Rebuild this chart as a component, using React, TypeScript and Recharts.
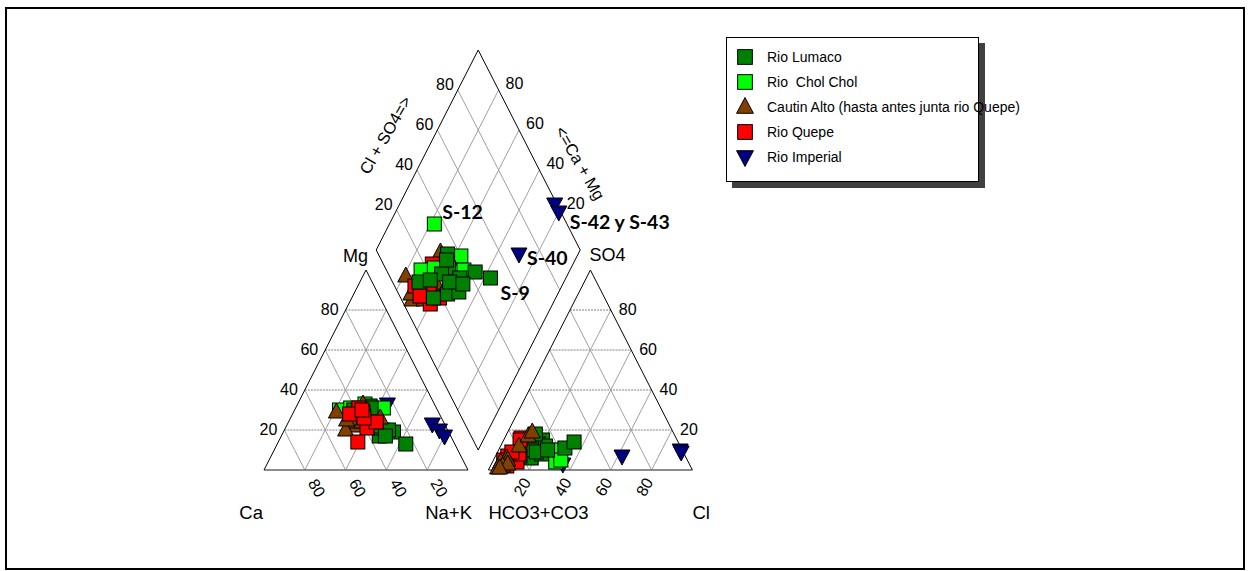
import React from "react";
import { ScatterChart, Scatter, XAxis, YAxis, ReferenceLine } from "recharts";

// percentages: Mg and Na+K (cations), SO4 and Cl (anions); Ca and HCO3+CO3 are the remainder
type Sample = { id?: string; mg: number; na: number; so4: number; cl: number };

const rioLumaco: Sample[] = [
  { mg: 30, na: 29, so4: 5, cl: 8 },
  { mg: 32, na: 36, so4: 15, cl: 19 },
  { mg: 23, na: 40, so4: 13, cl: 18 },
  { mg: 17, na: 48, so4: 12, cl: 22 },
  { mg: 19, na: 54, so4: 11, cl: 32 },
  { id: "S-9", mg: 13, na: 63, so4: 14, cl: 35 },
  { mg: 21, na: 46, so4: 6, cl: 18 },
  { mg: 20, na: 51, so4: 8, cl: 22 },
  { mg: 28, na: 38, so4: 10, cl: 16 },
  { mg: 22, na: 44, so4: 9, cl: 19 },
  { mg: 17, na: 51, so4: 10, cl: 24 },
  { mg: 27, na: 34, so4: 7, cl: 12 },
  { mg: 25, na: 40, so4: 5, cl: 11 },
  { mg: 31, na: 37, so4: 18, cl: 14 },
];

const rioCholChol: Sample[] = [
  { id: "S-12", mg: 30, na: 22, so4: 4, cl: 31 },
  { mg: 31, na: 27, so4: 7, cl: 10 },
  { mg: 31, na: 43, so4: 10, cl: 30 },
  { mg: 33, na: 33, so4: 12, cl: 12 },
  { mg: 20, na: 48, so4: 5, cl: 33 },
];

const cautinAlto: Sample[] = [
  { mg: 29, na: 21, so4: 4, cl: 4 },
  { mg: 23, na: 31, so4: 6, cl: 6 },
  { mg: 22, na: 34, so4: 5, cl: 7 },
  { mg: 26, na: 38, so4: 12, cl: 9 },
  { mg: 24, na: 32, so4: 2, cl: 6 },
  { mg: 26, na: 44, so4: 17, cl: 11 },
  { mg: 33, na: 32, so4: 19, cl: 12 },
  { mg: 20, na: 30, so4: 1, cl: 4 },
  { mg: 24, na: 36, so4: 3, cl: 8 },
  { mg: 25, na: 28, so4: 1, cl: 5 },
];

const rioQuepe: Sample[] = [
  { mg: 31, na: 31, so4: 16, cl: 8 },
  { mg: 21, na: 40, so4: 7, cl: 6 },
  { mg: 14, na: 39, so4: 4, cl: 12 },
  { mg: 28, na: 28, so4: 5, cl: 5 },
  { mg: 24, na: 43, so4: 8, cl: 11 },
  { mg: 29, na: 34, so4: 15, cl: 8 },
  { mg: 26, na: 36, so4: 9, cl: 7 },
  { mg: 30, na: 33, so4: 2, cl: 8 },
];

const rioImperial: Sample[] = [
  { id: "S-40", mg: 23, na: 71, so4: 7, cl: 62 },
  { id: "S-42", mg: 20, na: 76, so4: 10, cl: 89 },
  { id: "S-43", mg: 17, na: 80, so4: 9, cl: 90 },
  { mg: 33, na: 44, so4: 3, cl: 35 },
];

const tickValues = [20, 40, 60, 80];

const sampleLabels = [
  { text: "S-12", at: "S-12" },
  { text: "S-42 y S-43", at: "S-43" },
  { text: "S-40", at: "S-40" },
  { text: "S-9", at: "S-9" },
];

type MarkerKind = "square" | "up" | "down";

const series: { name: string; samples: Sample[]; fill: string; marker: MarkerKind }[] = [
  { name: "Rio Lumaco", samples: rioLumaco, fill: "#008000", marker: "square" },
  { name: "Rio  Chol Chol", samples: rioCholChol, fill: "#00ff00", marker: "square" },
  { name: "Cautin Alto (hasta antes junta rio Quepe)", samples: cautinAlto, fill: "#804000", marker: "up" },
  { name: "Rio Quepe", samples: rioQuepe, fill: "#ff0000", marker: "square" },
  { name: "Rio Imperial", samples: rioImperial, fill: "#000080", marker: "down" },
];

// ---- Piper geometry (triangle side = 100, gap between triangles = 10) ----
const H = Math.sqrt(3) / 2;
const GAP = 10;
type Pt = { x: number; y: number };

const cationPt = (mg: number, na: number): Pt => ({ x: na + mg / 2, y: mg * H });
const anionPt = (so4: number, cl: number): Pt => ({ x: 100 + GAP + cl + so4 / 2, y: so4 * H });
const diamondPt = (na: number, s: number): Pt => ({
  x: (na + 100 + GAP + s) / 2,
  y: H * (100 + GAP + s - na),
});

// each panel stacks its series in its own order (last one on top)
const panels: { key: string; place: (s: Sample) => Pt; order: number[] }[] = [
  { key: "cation", place: (s) => cationPt(s.mg, s.na), order: [4, 1, 0, 2, 3] },
  { key: "anion", place: (s) => anionPt(s.so4, s.cl), order: [4, 1, 0, 3, 2] },
  { key: "diamond", place: (s) => diamondPt(s.na, s.so4 + s.cl), order: [4, 2, 3, 1, 0] },
];

// chart domain so that 1 unit = 2.04px horizontally and 2.309px vertically
const W = 1249;
const HT = 571;
const X_DOMAIN: [number, number] = [-264 / 2.04, (W - 264) / 2.04];
const Y_DOMAIN: [number, number] = [(470 - HT) / 2.3094, 470 / 2.3094];

type Seg = { a: Pt; b: Pt; stroke: string; width?: number; dash?: string };

const triangleLines = (pt: (top: number, right: number) => Pt): Seg[] => {
  const segs: Seg[] = [];
  for (const v of tickValues) {
    // horizontal (top component)
    segs.push({ a: pt(v, 0), b: pt(v, 100 - v), stroke: "#808080", dash: "2 1" });
    // constant right component
    segs.push({ a: pt(0, v), b: pt(100 - v, v), stroke: "#a0a0a0" });
    // constant left component
    segs.push({ a: pt(0, 100 - v), b: pt(100 - v, 0), stroke: "#a0a0a0" });
  }
  segs.push({ a: pt(0, 0), b: pt(0, 100), stroke: "#666", width: 1.6 });
  segs.push({ a: pt(0, 0), b: pt(100, 0), stroke: "#000" });
  segs.push({ a: pt(0, 100), b: pt(100, 0), stroke: "#000" });
  return segs;
};

const diamondLines = (): Seg[] => {
  const segs: Seg[] = [];
  for (const v of tickValues) {
    segs.push({ a: diamondPt(v, 0), b: diamondPt(v, 100), stroke: "#a0a0a0" });
    segs.push({ a: diamondPt(0, v), b: diamondPt(100, v), stroke: "#a0a0a0" });
  }
  const c = [diamondPt(0, 0), diamondPt(0, 100), diamondPt(100, 100), diamondPt(100, 0)];
  c.forEach((p, i) => segs.push({ a: p, b: c[(i + 1) % 4], stroke: "#000" }));
  return segs;
};

const gridLines: Seg[] = [
  ...triangleLines((top, right) => cationPt(top, right)),
  ...triangleLines((top, right) => anionPt(top, right)),
  ...diamondLines(),
];

type TextItem = Pt & {
  text: string;
  dx: number;
  dy: number;
  anchor?: "start" | "middle" | "end";
  rotate?: number;
  size?: number;
  bold?: boolean;
};

const FONT = "'Liberation Sans', Arial, sans-serif";

const textItems: TextItem[] = [];
for (const v of tickValues) {
  textItems.push({ ...cationPt(v, 0), text: String(v), dx: -7, dy: -1, anchor: "end" });
  textItems.push({ ...cationPt(0, 100 - v), text: String(v), dx: 12, dy: 18, rotate: 60 });
  textItems.push({ ...anionPt(v, 100 - v), text: String(v), dx: 8, dy: -1, anchor: "start" });
  textItems.push({ ...anionPt(0, v), text: String(v), dx: -7, dy: 17, rotate: -60 });
  textItems.push({ ...diamondPt(0, v), text: String(v), dx: -4, dy: -6, anchor: "end" });
  textItems.push({ ...diamondPt(100 - v, 100), text: String(v), dx: 7, dy: -7, anchor: "start" });
}
textItems.push({ ...cationPt(100, 0), text: "Mg", dx: 2, dy: -14, anchor: "end", size: 18 });
textItems.push({ ...anionPt(100, 0), text: "SO4", dx: -1, dy: -15, anchor: "start", size: 18 });
textItems.push({ ...cationPt(0, 0), text: "Ca", dx: -1, dy: 42, anchor: "end", size: 18.5 });
textItems.push({ ...cationPt(0, 100), text: "Na+K", dx: 4, dy: 42, anchor: "end", size: 18.5 });
textItems.push({ ...anionPt(0, 0), text: "HCO3+CO3", dx: 0, dy: 42, anchor: "start", size: 18.5 });
textItems.push({ ...anionPt(0, 100), text: "Cl", dx: 0, dy: 42, anchor: "start", size: 18.5 });
textItems.push({ ...diamondPt(0, 50), text: "Cl + SO4=>", dx: -42, dy: -15, rotate: -60, size: 16.5 });
textItems.push({ ...diamondPt(50, 100), text: "<=Ca + Mg", dx: 51, dy: 13, rotate: 60, size: 16.5 });

const labelOffset: Record<string, [number, number]> = {
  "S-12": [8, -13],
  "S-43": [11, 9],
  "S-40": [8, 3],
  "S-9": [10, 14],
};

const allSamples = series.flatMap((s) => s.samples);
for (const l of sampleLabels) {
  const s = allSamples.find((p) => p.id === l.at);
  if (!s) continue;
  const [dx, dy] = labelOffset[l.at];
  textItems.push({
    ...diamondPt(s.na, s.so4 + s.cl),
    text: l.text,
    dx,
    dy,
    anchor: "start",
    size: 19.5,
    bold: true,
  });
}

const Marker = ({ cx, cy, fill, kind, scale = 1 }: { cx: number; cy: number; fill: string; kind: MarkerKind; scale?: number }) => {
  if (kind === "square") {
    const h = 7 * scale;
    return <rect x={cx - h} y={cy - h} width={2 * h} height={2 * h} fill={fill} stroke="#000" strokeWidth={1} />;
  }
  const w = 8 * scale;
  const pts =
    kind === "up"
      ? `${cx},${cy - 9 * scale} ${cx - w},${cy + 6 * scale} ${cx + w},${cy + 6 * scale}`
      : `${cx - w},${cy - 6 * scale} ${cx + w},${cy - 6 * scale} ${cx},${cy + 9 * scale}`;
  return <polygon points={pts} fill={fill} stroke="#000" strokeWidth={1} strokeLinejoin="miter" />;
};

const TextShape = (p: any) => {
  const t: TextItem = p.payload;
  const x = p.cx + t.dx;
  const y = p.cy + t.dy;
  return (
    <text
      x={x}
      y={y}
      textAnchor={t.anchor ?? "middle"}
      dominantBaseline="central"
      transform={t.rotate ? `rotate(${t.rotate} ${x} ${y})` : undefined}
      fontFamily={t.bold ? "Lato, 'Liberation Sans', sans-serif" : FONT}
      fontWeight={t.bold ? 700 : 400}
      fontSize={t.size ?? 16}
      fill="#000"
    >
      {t.text}
    </text>
  );
};

const Legend = () => (
  <div
    style={{
      position: "absolute",
      left: 726,
      top: 37,
      width: 251,
      height: 143,
      border: "1.5px solid #000",
      background: "#fff",
      boxShadow: "6px 6px 0 #404040",
      fontFamily: FONT,
      fontSize: 14,
    }}
  >
    {series.map((s, i) => (
      <div
        key={s.name}
        style={{ position: "absolute", left: 0, top: 9 + i * 25, height: 20, display: "flex", alignItems: "center", whiteSpace: "pre" }}
      >
        <svg width={36} height={20}>
          <Marker cx={18} cy={10} fill={s.fill} kind={s.marker} scale={1.05} />
        </svg>
        <span style={{ marginLeft: 4 }}>{s.name}</span>
      </div>
    ))}
  </div>
);

export default function App() {
  return (
    <div style={{ position: "absolute", left: 0, top: 0, width: W, height: HT, background: "#fff" }}>
      <div
        style={{
          position: "absolute",
          left: 5,
          top: 7,
          width: 1236,
          height: 559,
          border: "2px solid #000",
        }}
      />
      <div style={{ position: "absolute", left: 0, top: 0 }}>
        <ScatterChart width={W} height={HT} margin={{ top: 0, right: 0, bottom: 0, left: 0 }}>
          <XAxis type="number" dataKey="x" domain={X_DOMAIN} allowDataOverflow hide />
          <YAxis type="number" dataKey="y" domain={Y_DOMAIN} allowDataOverflow hide />
          {gridLines.map((g, i) => (
            <ReferenceLine
              key={`g${i}`}
              segment={[g.a, g.b]}
              stroke={g.stroke}
              strokeWidth={g.width ?? 1}
              strokeDasharray={g.dash}
              ifOverflow="visible"
            />
          ))}
          {panels.flatMap((panel) =>
            panel.order.map((idx) => {
              const s = series[idx];
              return (
                <Scatter
                  key={`${panel.key}-${s.name}`}
                  name={s.name}
                  data={s.samples.map(panel.place)}
                  isAnimationActive={false}
                  shape={(p: any) => <Marker cx={p.cx} cy={p.cy} fill={s.fill} kind={s.marker} />}
                />
              );
            })
          )}
          <Scatter name="labels" data={textItems} isAnimationActive={false} shape={TextShape} />
        </ScatterChart>
      </div>
      <Legend />
    </div>
  );
}
